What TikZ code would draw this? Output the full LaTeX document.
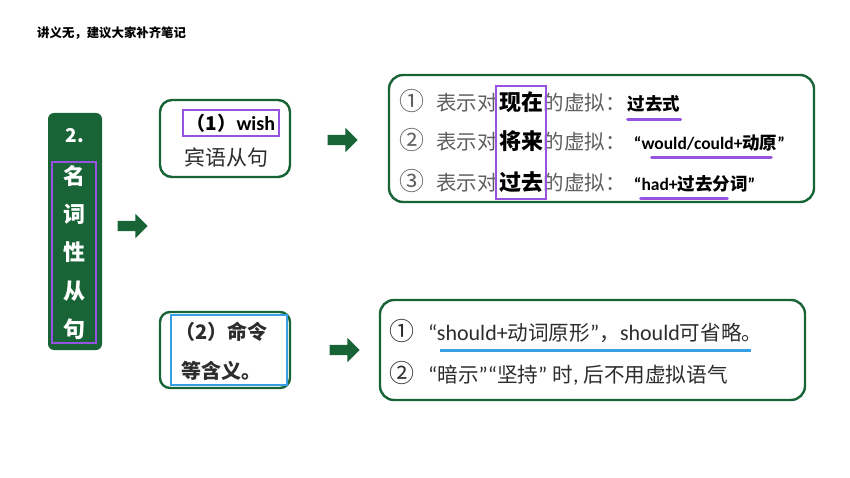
\documentclass[tikz,border=0pt]{standalone}
\usepackage{fontspec}
\setmainfont{Noto Sans CJK SC}
\newfontfamily\latin{Carlito}
\usetikzlibrary{shapes.arrows, positioning, fit}
\definecolor{deepgreen}{RGB}{24, 100, 54}
\definecolor{hlpurple}{RGB}{150, 82, 225}
\definecolor{hlblue}{RGB}{55, 160, 228}
\definecolor{txtgray}{RGB}{95, 95, 95}
\definecolor{txtdark}{RGB}{45, 45, 45}

\newcommand{\lt}[1]{{\latin\fontsize{22}{22}\selectfont #1}}

\tikzset{
  greenbox/.style={draw=deepgreen, line width=2.4pt, rounded corners=12pt, fill=white},
  blockarrow/.style={single arrow, fill=deepgreen, draw=none, minimum height=30pt,
    inner sep=5pt, single arrow head extend=7pt, single arrow head indent=0pt},
  numtxt/.style={text=txtgray, inner sep=0pt, font=\fontsize{25}{25}\selectfont},
  graytxt/.style={text=txtgray, inner sep=0pt, font=\fontsize{20.5}{20.5}\selectfont},
  keytxt/.style={text=black, inner sep=0pt, font=\fontsize{22}{22}\selectfont\bfseries},
  valtxt/.style={text=black, inner sep=0pt, font=\fontsize{17.5}{17.5}\selectfont\bfseries},
  darktxt/.style={text=txtdark, inner sep=0pt, font=\fontsize{20.6}{20.6}\selectfont},
  ulpurple/.style={hlpurple, line width=3pt, line cap=round},
}

\begin{document}
\begin{tikzpicture}[x=1pt, y=-1pt]
  \useasboundingbox[fill=white] (0,0) rectangle (850,478);

  % 标题
  \node[anchor=west, inner sep=0pt, font=\fontsize{12.4}{12.4}\selectfont\bfseries] (title) at (37,33) {讲义无，建议大家补齐笔记};

  % 左侧竖条
  \node[fill=deepgreen, rounded corners=6pt, minimum width=54pt, minimum height=237pt] (main) at (75,231.5) {};
  \node[text=white, font=\fontsize{19}{19}\selectfont\bfseries] (num) at (75,136) {2.};
  \node[draw=hlpurple, line width=2pt, text=white, minimum width=44pt, minimum height=181pt,
    align=center, font=\fontsize{22}{38.3}\selectfont\bfseries] (topic) at (74,252.5) {名\\词\\性\\从\\句};
  \node[blockarrow] (arr0) at (130,226) {};

  % (1) wish 宾语从句
  \node[greenbox, minimum width=130pt, minimum height=77pt] (wishbox) at (225,138.5) {};
  \node[draw=hlpurple, line width=2pt, minimum width=96pt, minimum height=26pt, inner sep=0pt,
    font=\fontsize{19}{19}\selectfont\bfseries] (wish) at (231,123) {（1）{\latin\fontsize{20}{20}\selectfont wish}};
  \node[text=txtdark, font=\fontsize{21}{21}\selectfont] (obj) at (226,158) {宾语从句};
  \node[blockarrow] (arr1) at (340,140) {};

  % 三种虚拟
  \node[greenbox, rounded corners=14pt, minimum width=425pt, minimum height=127pt] (wishlist) at (601.5,138.5) {};
  \node[numtxt, anchor=base west] (n1) at (399,111) {①};
  \node[graytxt, anchor=base west] (p1) at (436,111) {表示对};
  \node[keytxt, base right=1pt of p1] (k1) {现在};
  \node[graytxt, base right=0pt of k1] (q1) {的虚拟：};
  \node[valtxt, base right=2pt of q1] (v1) {过去式};

  \node[numtxt, anchor=base west] (n2) at (399,150) {②};
  \node[graytxt, anchor=base west] (p2) at (436,150) {表示对};
  \node[keytxt, base right=1pt of p2] (k2) {将来};
  \node[graytxt, base right=0pt of k2] (q2) {的虚拟：};
  \node[valtxt, base right=8pt of q2] (v2) {{\latin “would/could+}动原{\latin ”}};

  \node[numtxt, anchor=base west] (n3) at (399,191) {③};
  \node[graytxt, anchor=base west] (p3) at (436,191) {表示对};
  \node[keytxt, base right=1pt of p3] (k3) {过去};
  \node[graytxt, base right=0pt of k3] (q3) {的虚拟：};
  \node[valtxt, base right=8pt of q3] (v3) {{\latin “had+}过去分词{\latin ”}};

  \node[draw=hlpurple, line width=2pt, inner xsep=3pt, inner ysep=6pt, fit=(k1)(k3)] (keycol) {};
  \draw[ulpurple] ([yshift=-9pt]v1.base west) -- ([yshift=-9pt]v1.base east);
  \draw[ulpurple] ([xshift=18pt, yshift=-8pt]v2.base west) -- ([xshift=-14pt, yshift=-8pt]v2.base east);
  \draw[ulpurple] ([xshift=7pt, yshift=-8pt]v3.base west) -- ([xshift=-28pt, yshift=-8pt]v3.base east);

  % (2) 命令等含义
  \node[greenbox, rounded corners=10pt, minimum width=130pt, minimum height=76pt] (orderbox) at (225,350) {};
  \node[draw=hlblue, line width=2pt, minimum width=116pt, minimum height=70pt] (orderin) at (229,350) {};
  \node[anchor=base west, inner sep=0pt, text=txtdark, font=\fontsize{20}{20}\selectfont\bfseries] (ord1) at (175,339) {（2）命令};
  \node[anchor=base west, inner sep=0pt, text=txtdark, font=\fontsize{20}{20}\selectfont\bfseries] (ord2) at (181,378) {等含义。};
  \node[blockarrow] (arr2) at (342,350) {};

  % should
  \node[greenbox, rounded corners=14pt, minimum width=425pt, minimum height=100pt] (shouldbox) at (592.5,350) {};
  \node[numtxt, text=txtdark, anchor=base west] (m1) at (389,340) {①};
  \node[darktxt, anchor=base west] (s1) at (428,340)
    {\lt{“should+}动词原形\lt{”}，\lt{should}可省略。};
  \node[numtxt, text=txtdark, anchor=base west] (m2) at (389,382) {②};
  \node[darktxt, anchor=base west] (s2) at (428,382)
    {\lt{“}暗示\lt{”“}坚持\lt{” }时\lt{, }后不用虚拟语气};
  \draw[hlblue, line width=3pt] ([xshift=12pt, yshift=-10pt]s1.base west) -- ([xshift=-12pt, yshift=-10pt]s1.base east);

\end{tikzpicture}
\end{document}
